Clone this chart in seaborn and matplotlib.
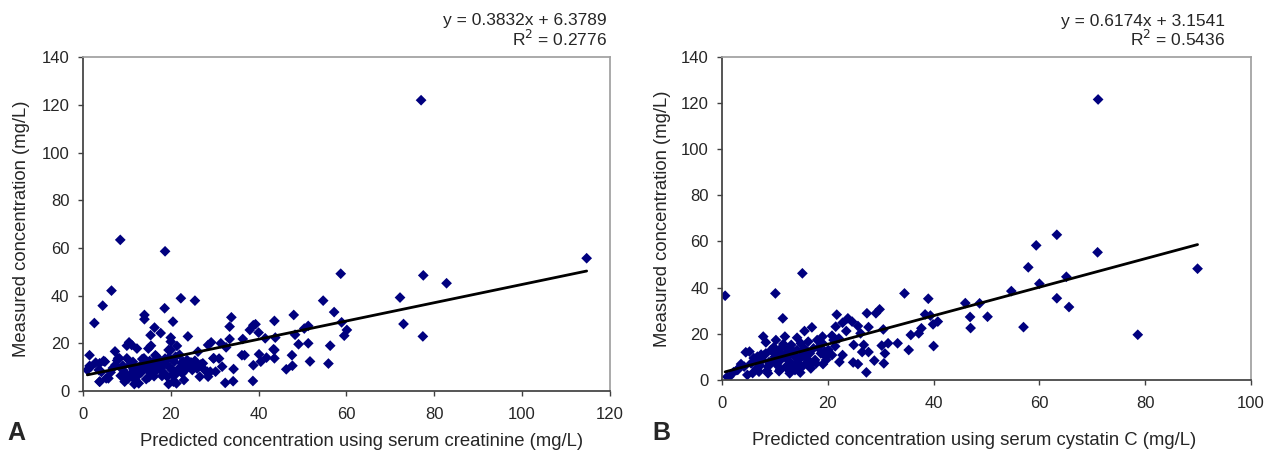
import matplotlib
matplotlib.use("Agg")
import matplotlib.pyplot as plt
import numpy as np
import pandas as pd
import seaborn as sns

sns.set_theme(style="white")
plt.rcParams["font.family"] = ["Liberation Sans", "DejaVu Sans"]

# panel A: predicted from serum creatinine vs measured
a_x = [77.0, 8.5, 18.7, 114.7, 58.7, 77.5, 82.8, 6.5, 4.5, 72.2, 22.3, 25.5, 54.7, 18.6,
       57.2, 14.0, 48.0, 33.8, 14.0, 2.6, 20.5, 43.6, 73.0, 58.9, 33.4, 39.3, 38.8, 16.3,
       51.3, 50.4, 60.1, 40.0, 17.7, 48.3, 15.4, 23.9, 59.5, 77.4, 20.0, 38.0, 36.4, 41.5,
       43.8, 33.4, 20.0, 29.2, 10.5, 10.0, 15.5, 21.4, 28.5, 49.1, 51.3, 56.3, 32.6, 12.3,
       14.9, 7.3, 19.5, 26.2, 43.4, 43.6, 1.5, 16.5, 36.2, 36.8, 40.1, 47.6, 8.0, 10.0,
       13.5, 18.7, 21.1, 29.7, 31.0, 41.8, 43.6, 2.9, 4.7, 11.4, 16.6, 22.8, 25.5, 40.5,
       51.7, 55.9, 1.5, 9.1, 15.6, 22.5, 26.9, 31.7, 38.8, 47.7, 1.0, 3.6, 11.5, 14.6,
       20.3, 24.9, 28.3, 34.3, 46.3, 29.0, 6.3, 9.7, 18.0, 26.6, 3.8, 5.3, 9.5, 11.7,
       19.5, 20.6, 23.0, 32.4, 34.2, 38.7,
       1.8, 3.8, 5.0, 3.8, 5.8, 7.4, 8.3, 9.1, 9.9, 10.7, 11.1, 11.9, 12.7, 13.1, 13.9,
       14.7, 15.6, 16.0, 16.8, 16.8, 17.6, 19.2, 20.0, 20.8, 21.3, 22.5, 23.3, 23.7, 24.5,
       25.3, 27.3, 27.7, 28.5, 29.8, 30.2, 31.4, 12.5, 14.2, 15.0, 17.0, 18.4, 19.8, 21.8,
       6.8, 8.6, 10.3, 13.3, 15.8, 17.2, 19.0, 21.0, 22.0, 24.0,
       4.2, 7.8, 9.4, 11.0, 12.8, 14.4, 16.2, 18.2, 20.4, 22.6, 24.6, 26.0, 13.8, 15.2,
       17.9, 19.6, 21.6, 23.5]
a_y = [122.0, 63.4, 58.6, 55.7, 49.2, 48.5, 45.2, 42.1, 35.8, 39.2, 38.9, 37.9, 37.9, 34.7,
       33.1, 31.9, 31.9, 30.9, 30.1, 28.5, 29.1, 29.4, 28.1, 28.8, 27.0, 28.0, 27.6, 26.6,
       27.3, 26.2, 25.6, 24.5, 24.3, 23.6, 23.4, 22.9, 23.2, 22.9, 22.4, 25.6, 21.8, 22.1,
       22.4, 21.8, 20.7, 20.4, 20.4, 19.0, 19.0, 18.9, 19.3, 19.6, 20.0, 19.0, 18.3, 17.8,
       17.8, 16.6, 17.2, 16.5, 17.5, 17.2, 15.0, 15.0, 15.0, 15.0, 15.4, 15.0, 13.7, 13.7,
       13.4, 13.6, 14.4, 13.7, 13.6, 14.0, 13.7, 11.9, 12.6, 12.2, 13.0, 12.3, 12.7, 12.3,
       12.4, 11.5, 10.5, 10.6, 10.9, 10.2, 11.2, 10.2, 10.8, 10.6, 8.8, 8.8, 8.8, 9.5,
       8.8, 8.8, 8.1, 9.2, 9.1, 8.1, 7.8, 7.4, 6.3, 6.0, 3.9, 5.3, 3.9, 2.9,
       2.9, 3.9, 4.6, 3.4, 4.1, 4.2,
       10.2, 11.6, 12.3, 3.9, 5.3, 10.9, 13.7, 8.8, 6.7, 10.9, 19.3, 4.6, 3.2, 9.5, 13.7,
       8.8, 7.4, 11.6, 14.4, 8.8, 10.2, 6.0, 17.2, 12.3, 3.2, 11.6, 8.8, 13.0, 10.9,
       10.2, 11.6, 8.8, 6.0, 13.7, 8.1, 20.0, 6.5, 11.0, 5.8, 12.0, 7.6, 9.8, 9.0,
       9.6, 6.4, 5.2, 7.8, 9.4, 12.4, 11.2, 6.8, 15.2, 12.2,
       8.0, 12.8, 6.0, 7.0, 10.0, 5.0, 6.2, 10.6, 6.8, 7.4, 12.0, 9.4, 11.8, 12.6,
       8.4, 14.0, 9.0, 10.4]

# panel B: predicted from serum cystatin C vs measured
b_x = [71.1, 63.3, 59.4, 71.0, 57.9, 89.9, 15.2, 65.1, 60.0, 54.7, 0.6, 10.1, 34.5, 39.0,
       63.3, 46.0, 48.7, 65.6, 29.8, 29.1, 27.4, 38.4, 39.4, 50.2, 46.9, 21.7, 11.5, 23.8,
       24.6, 22.8, 40.8, 39.9, 25.7, 27.7, 21.5, 57.0, 47.0, 37.7, 17.0, 15.6, 30.5, 23.5,
       26.2, 37.2, 20.8, 35.7, 78.6, 7.8, 14.2, 19.0, 22.1, 8.3, 10.2, 11.9, 31.4, 33.2,
       30.2, 24.9, 26.8, 40.0, 35.3, 4.5, 27.7, 30.8, 26.5, 22.8, 6.7, 19.7, 28.8, 22.2,
       24.8, 25.7, 30.6, 19.1, 3.6, 27.3, 1.0, 4.8,
       1.4, 2.8, 4.2, 5.2, 5.5, 6.6, 7.6, 8.3, 8.7, 9.3, 9.7, 10.0, 10.4, 10.7, 11.1,
       11.4, 11.8, 12.1, 12.5, 12.8, 13.1, 13.5, 13.8, 14.2, 14.5, 14.9, 15.2, 15.6, 15.9,
       16.3, 16.6, 17.3, 17.6, 18.0, 18.7, 19.0, 19.7, 20.1, 20.8, 21.1, 8.7, 12.8,
       6.0, 7.2, 8.0, 9.0, 9.5, 10.5, 11.0, 12.0, 13.0, 14.0, 15.0, 16.0, 17.0, 18.2,
       7.0, 8.5, 10.8, 12.4, 13.6, 14.8, 16.8, 2.2, 3.0, 5.8, 9.8, 11.6,
       6.4, 7.4, 8.9, 9.9, 11.3, 12.2, 13.3, 14.6, 16.1, 17.8, 19.4, 21.4]
b_y = [121.5, 62.9, 58.3, 55.3, 48.8, 48.2, 46.2, 44.7, 41.7, 38.5, 36.5, 37.5, 37.5, 35.2,
       35.4, 33.3, 33.2, 31.6, 30.6, 28.9, 28.9, 28.4, 27.9, 27.4, 27.3, 28.3, 26.7, 26.7,
       25.3, 24.8, 25.3, 24.1, 23.4, 22.9, 23.1, 22.9, 22.5, 22.4, 22.8, 21.2, 21.9, 21.2,
       20.2, 20.2, 19.2, 19.5, 19.6, 18.8, 18.3, 18.8, 18.0, 16.3, 17.3, 18.8, 15.9, 15.9,
       14.9, 15.2, 15.2, 14.7, 13.0, 12.0, 12.1, 11.5, 12.1, 10.8, 10.1, 10.1, 8.4, 7.8,
       7.6, 6.9, 7.2, 6.9, 6.9, 3.3, 1.4, 2.2,
       1.4, 4.3, 5.8, 12.3, 7.2, 5.1, 8.7, 11.5, 5.8, 13.0, 8.7, 10.1, 6.5, 12.3, 8.7,
       14.4, 10.1, 5.8, 13.0, 7.9, 15.2, 10.8, 4.3, 13.0, 8.7, 15.9, 10.8, 13.7, 7.2,
       16.6, 11.5, 13.7, 8.7, 17.3, 11.5, 15.9, 8.7, 13.0, 10.8, 17.3, 2.9, 2.9,
       9.5, 6.2, 10.8, 7.0, 12.6, 9.2, 4.6, 11.2, 6.0, 9.8, 5.4, 12.0, 7.4, 14.0,
       3.6, 4.0, 3.8, 4.8, 6.4, 3.2, 5.0, 3.4, 4.4, 3.0, 14.2, 15.6,
       8.2, 11.0, 7.8, 11.6, 10.6, 9.6, 12.8, 6.6, 9.0, 7.2, 12.4, 14.6]

fits = [(0.3832, 6.3789, 0.2776), (0.6174, 3.1541, 0.5436)]
x_limits = [(0, 120), (0, 100)]
x_labels = ["Predicted concentration using serum creatinine (mg/L)",
            "Predicted concentration using serum cystatin C (mg/L)"]
panel_tags = ["A", "B"]

fig = plt.figure(figsize=(12.76, 4.54), dpi=100)
ax_a = fig.add_axes([0.0650, 0.1388, 0.4130, 0.735])
ax_b = fig.add_axes([0.5658, 0.163, 0.4146, 0.712])

# label placement in axes fractions (x label centre/top, y label right edge/centre)
xlab_pos = [(0.529, -0.127), (0.476, -0.161)]
ylab_pos = [(-0.1006, 0.485), (-0.096, 0.50)]
eq_x = [0.994, 0.951]

panels = [(ax_a, a_x, a_y), (ax_b, b_x, b_y)]
for i, (ax, xs, ys) in enumerate(panels):
    df = pd.DataFrame({"pred": xs, "meas": ys})
    sns.scatterplot(data=df, x="pred", y="meas", marker="D", s=30, color="#00007f",
                    edgecolor="none", ax=ax)
    slope, icpt, r2 = fits[i]
    xl = np.array([df["pred"].min(), df["pred"].max()])
    ax.plot(xl, slope * xl + icpt, color="black", linewidth=2)

    ax.set_xlim(*x_limits[i])
    ax.set_ylim(0, 140)
    ax.set_xticks(np.arange(x_limits[i][0], x_limits[i][1] + 1, 20))
    ax.set_yticks(np.arange(0, 141, 20))
    ax.tick_params(axis="both", direction="out", length=3.6, width=1, color="#404040",
                   labelsize=12, bottom=True, left=True)
    ax.tick_params(axis="x", pad=8)
    ax.tick_params(axis="y", pad=6)
    for side in ["left", "bottom"]:
        ax.spines[side].set_color("#404040")
    for side in ["top", "right"]:
        ax.spines[side].set_color("#a0a0a0")
    ax.set_xlabel(x_labels[i], fontsize=13.3)
    ax.set_ylabel("Measured concentration (mg/L)", fontsize=13.3)
    ax.xaxis.set_label_coords(*xlab_pos[i])
    ax.yaxis.set_label_coords(*ylab_pos[i])
    ax.grid(False)

    ax.text(eq_x[i], 1.11, f"y = {slope:.4f}x + {icpt:.4f}",
            transform=ax.transAxes, ha="right", va="center", fontsize=12.5)
    ax.text(eq_x[i], 1.055, f"R$^2$ = {r2:.4f}",
            transform=ax.transAxes, ha="right", va="center", fontsize=12.5)

fig.text(0.006, 0.031, panel_tags[0], fontsize=18, fontweight="bold")
fig.text(0.511, 0.031, panel_tags[1], fontsize=18, fontweight="bold")

fig.savefig("out.png", dpi=100)
